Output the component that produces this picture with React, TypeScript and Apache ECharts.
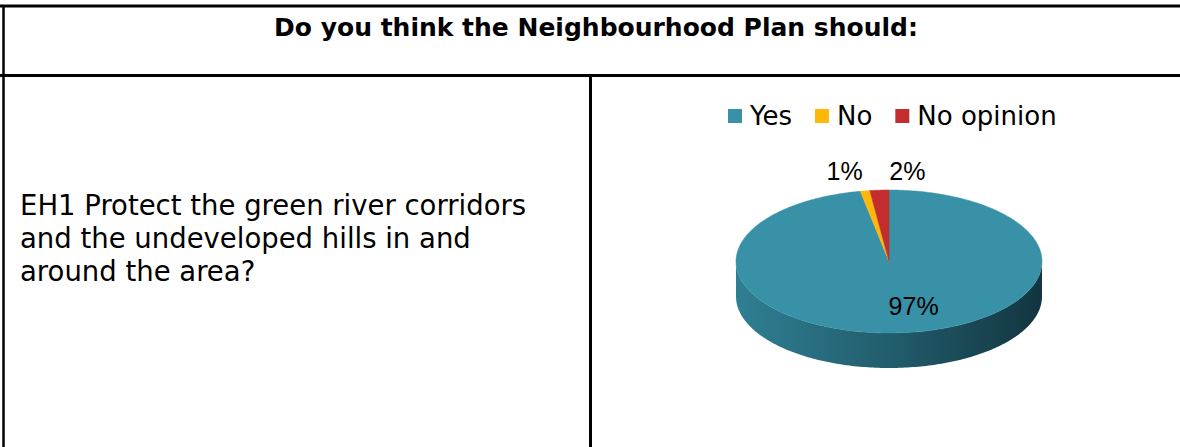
import React, { useEffect, useRef } from "react";
import * as echarts from "echarts";

const headerText = "Do you think the Neighbourhood Plan should:";
const questionText = "EH1 Protect the green river corridors\nand the undeveloped hills in and\naround the area?";
const categories = ["Yes", "No", "No opinion"];
const values = [97, 1, 2];
const labels = ["97%", "1%", "2%"];
const colors = ["#3891A7", "#FEB80A", "#C32D2E"];

// layout (not data)
const CX = 889;
const CY = 261.5;
const RX = 153;
const RY = 71.5;
const DEPTH = 35;
const labelOffsets = [
  [16, 2],
  [-18, -13],
  [29, -12],
];
const FONT = "DejaVu Sans";
const LABEL_FONT = "Liberation Sans";

const total = values.reduce((a, b) => a + b, 0);
const startDeg = (i: number) => {
  let s = 0;
  for (let k = 0; k < i; k++) s += values[k];
  return (s / total) * 360;
};

const pt = (deg: number, dy = 0): [number, number] => {
  const r = (deg * Math.PI) / 180;
  return [CX + RX * Math.sin(r), CY - RY * Math.cos(r) + dy];
};

const arcPoints = (a0: number, a1: number, dy = 0) => {
  const pts: [number, number][] = [];
  const n = Math.max(2, Math.ceil(Math.abs(a1 - a0) / 1));
  for (let k = 0; k <= n; k++) pts.push(pt(a0 + ((a1 - a0) * k) / n, dy));
  return pts;
};

function makeRender(i: number) {
  return (params: any, api: any) => {
    const v = api.value(0);
    const a0 = startDeg(i);
    const a1 = a0 + (v / total) * 360;
    const children: any[] = [];
    // front side wall (visible between 90 and 270 deg)
    const s0 = Math.max(a0, 90);
    const s1 = Math.min(a1, 270);
    if (s1 > s0) {
      const top = arcPoints(s0, s1, 0);
      const bottom = arcPoints(s0, s1, DEPTH).reverse();
      children.push({
        type: "polygon",
        shape: { points: [...top, ...bottom] },
        style: {
          fill: {
            type: "linear",
            x: 0,
            y: 0,
            x2: 1,
            y2: 0,
            colorStops: [
              { offset: 0, color: "#2F7F93" },
              { offset: 0.5, color: "#225D6C" },
              { offset: 1, color: "#123540" },
            ],
          },
          stroke: "none",
        },
      });
    }
    // top face
    children.push({
      type: "polygon",
      shape: { points: [[CX, CY], ...arcPoints(a0, a1, 0)] },
      style: { fill: colors[i], stroke: colors[i], lineWidth: 0.5 },
    });
    // label
    const mid = (a0 + a1) / 2;
    const inside = v / total > 0.5;
    const r = (mid * Math.PI) / 180;
    const f = inside ? 0.6 : 1.1;
    const lx = CX + RX * f * Math.sin(r) + labelOffsets[i][0];
    const ly = CY - RY * f * Math.cos(r) + labelOffsets[i][1];
    children.push({
      type: "text",
      style: {
        text: labels[i],
        x: lx,
        y: ly,
        fill: "#000",
        fontSize: 25,
        fontFamily: LABEL_FONT,
        textAlign: "center",
        textVerticalAlign: "middle",
      },
      z2: 10,
    });
    return { type: "group", children };
  };
}

export default function App() {
  const ref = useRef<HTMLDivElement>(null);
  useEffect(() => {
    if (!ref.current) return;
    const chart = echarts.init(ref.current, null, { renderer: "svg" });
    chart.setOption({
      animation: false,
      backgroundColor: "#fff",
      legend: {
        left: 728,
        top: 103,
        itemWidth: 14,
        itemHeight: 14,
        itemGap: 23,
        padding: 0,
        icon: "rect",
        data: categories,
        textStyle: { fontSize: 26, color: "#000", fontFamily: FONT, padding: [0, 0, 0, 3] },
      },
      graphic: [
        { type: "line", shape: { x1: 0, y1: 6, x2: 1180, y2: 6 }, style: { stroke: "#000", lineWidth: 3 } },
        { type: "line", shape: { x1: 3.5, y1: 5, x2: 3.5, y2: 447 }, style: { stroke: "#000", lineWidth: 2.5 } },
        { type: "line", shape: { x1: 0, y1: 75.5, x2: 1180, y2: 75.5 }, style: { stroke: "#000", lineWidth: 3 } },
        { type: "line", shape: { x1: 590.5, y1: 75, x2: 590.5, y2: 447 }, style: { stroke: "#000", lineWidth: 3 } },
        {
          type: "text",
          style: {
            text: headerText,
            x: 596,
            y: 27,
            fill: "#000",
            fontSize: 25,
            fontWeight: "bold",
            fontFamily: FONT,
            textAlign: "center",
            textVerticalAlign: "middle",
          },
        },
        {
          type: "text",
          style: {
            text: questionText,
            x: 20,
            y: 188,
            fill: "#000",
            fontSize: 27.5,
            lineHeight: 33,
            fontFamily: FONT,
            textAlign: "left",
            textVerticalAlign: "top",
          },
        },
      ],
      series: categories.map((name, i) => ({
        type: "custom",
        name,
        coordinateSystem: "none",
        itemStyle: { color: colors[i] },
        z: i === 0 ? 2 : 3,
        data: [[values[i]]],
        renderItem: makeRender(i),
      })),
    });
    return () => chart.dispose();
  }, []);
  return (
    <div
      ref={ref}
      style={{ position: "fixed", left: 0, top: 0, width: 1180, height: 447, background: "#fff" }}
    />
  );
}
